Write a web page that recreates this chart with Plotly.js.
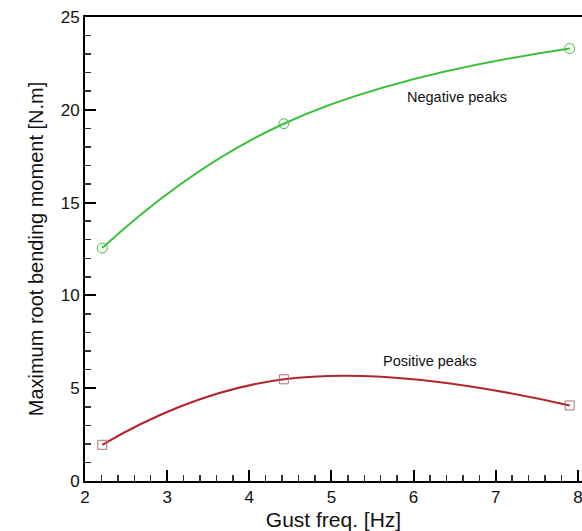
<!DOCTYPE html>
<html>
<head>
<meta charset="utf-8">
<script src="https://cdn.plot.ly/plotly-3.0.1.min.js"></script>
<style>html,body{margin:0;padding:0;background:#fff;}#chart{width:582px;height:531px;}</style>
</head>
<body>
<div id="chart"></div>
<script>
var gustFreq = [2.21, 4.42, 7.9];
var negativePeaks = [12.55, 19.25, 23.3];
var positivePeaks = [1.95, 5.48, 4.07];
var xRange = [2, 8.05], xTickStart = 2, xTickStep = 1, xMinorStep = 0.2;
var yRange = [0, 25], yTickStart = 0, yTickStep = 5, yMinorStep = 1;

var traces = [
  {
    x: gustFreq, y: negativePeaks, type: 'scatter', mode: 'lines+markers',
    line: {color: '#3cc03c', width: 2, shape: 'spline', smoothing: 1.3},
    marker: {symbol: 'circle-open', size: 10, color: '#3cc03c', line: {width: 1}},
    showlegend: false, cliponaxis: false
  },
  {
    x: gustFreq, y: positivePeaks, type: 'scatter', mode: 'lines+markers',
    line: {color: '#b0262a', width: 2, shape: 'spline', smoothing: 1.3},
    marker: {symbol: 'square-open', size: 9, color: '#b86a6a', line: {width: 1}},
    showlegend: false, cliponaxis: false
  }
];

var layout = {
  width: 582, height: 531,
  margin: {l: 85, r: 0, t: 17, b: 50},
  paper_bgcolor: '#fff', plot_bgcolor: '#fff',
  font: {family: 'Liberation Sans, Arial, sans-serif', color: '#111', size: 17},
  xaxis: {
    range: xRange, tickmode: 'linear', tick0: xTickStart, dtick: xTickStep,
    showgrid: false, zeroline: false,
    showline: true, linecolor: '#000', linewidth: 2, mirror: true,
    ticks: 'inside', ticklen: 11, tickwidth: 2, tickcolor: '#000',
    minor: {ticks: 'inside', dtick: xMinorStep, ticklen: 6, tickwidth: 1.5, tickcolor: '#333'},
    tickfont: {size: 17, color: '#111'}, ticklabeloverflow: 'allow',
    title: {text: 'Gust freq. [Hz]', font: {size: 21, color: '#111'}, standoff: 6}
  },
  yaxis: {
    range: yRange, tickmode: 'linear', tick0: yTickStart, dtick: yTickStep,
    showgrid: false, zeroline: false,
    showline: true, linecolor: '#000', linewidth: 2,
    ticks: 'inside', ticklen: 11, tickwidth: 2, tickcolor: '#000',
    minor: {ticks: 'inside', dtick: yMinorStep, ticklen: 6, tickwidth: 1.5, tickcolor: '#333'},
    tickfont: {size: 17, color: '#111'}, ticklabeloverflow: 'allow',
    title: {text: 'Maximum root bending moment [N.m]', font: {size: 20, color: '#111'}, standoff: 12}
  },
  annotations: [
    {x: 6.53, y: 20.69, xref: 'x', yref: 'y', text: 'Negative peaks', showarrow: false, font: {size: 14.5, color: '#111'}},
    {x: 6.2, y: 6.45, xref: 'x', yref: 'y', text: 'Positive peaks', showarrow: false, font: {size: 14.5, color: '#111'}}
  ]
};

Plotly.newPlot('chart', traces, layout, {displayModeBar: false, staticPlot: true});
</script>
</body>
</html>
